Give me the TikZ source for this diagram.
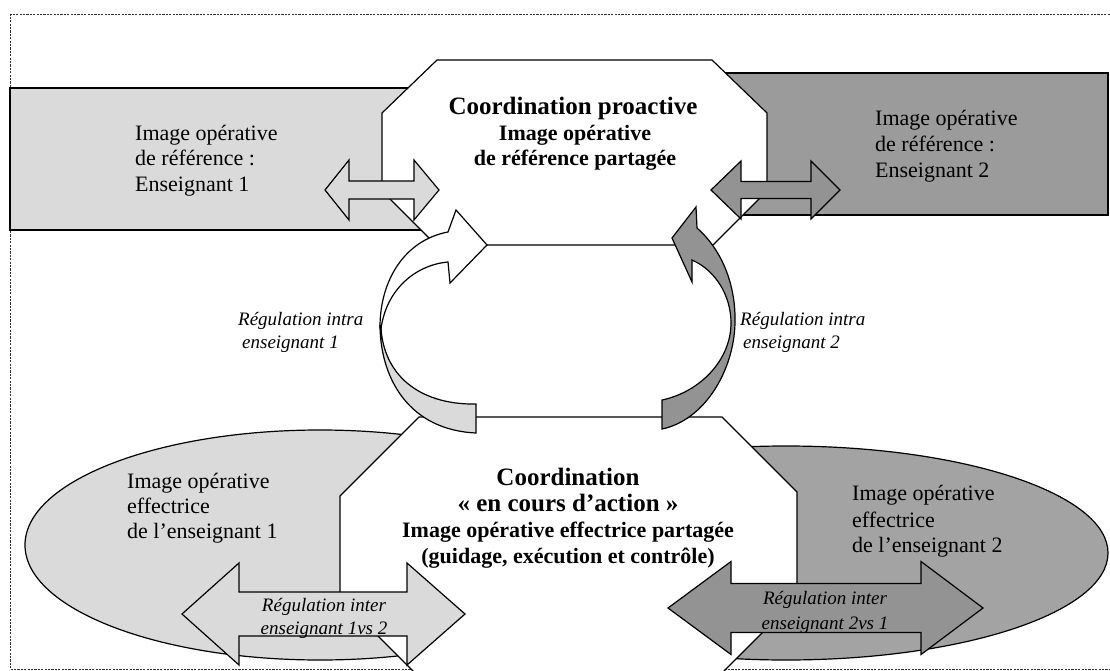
\documentclass[tikz,border=0pt]{standalone}
\usepackage{fontspec}
\setmainfont{Liberation Serif}
\definecolor{lgray}{HTML}{DADADA}
\definecolor{rgray}{HTML}{9B9B9B}
\definecolor{egray}{HTML}{A3A3A3}
\definecolor{agray}{HTML}{939393}
\definecolor{framec}{HTML}{333333}
\newcommand{\dblarrow}[8]{%
  \draw[#1] (#2,#6) -- (#3,#6-#8) -- (#3,#6-#7) -- (#4,#6-#7) -- (#4,#6-#8) -- (#5,#6)
    -- (#4,#6+#8) -- (#4,#6+#7) -- (#3,#6+#7) -- (#3,#6+#8) -- cycle;}
\begin{document}
\begin{tikzpicture}[x=1pt,y=-1pt,line join=miter,
  outl/.style={draw=black,line width=1.2pt},
  frameline/.style={draw=framec,line width=1pt,dash pattern=on 2.2pt off 1.2pt},
  reg/.style={font=\fontsize{22}{26}\selectfont,inner sep=0pt},
  ttl/.style={font=\fontsize{25}{29}\selectfont\bfseries,inner sep=0pt},
  bld/.style={font=\fontsize{22}{26}\selectfont\bfseries,inner sep=0pt},
  itl/.style={font=\fontsize{19}{23}\selectfont\itshape,inner sep=0pt}]
\useasboundingbox (0,0) rectangle (1110,671);
% frame
\draw[frameline] (1120,15) -- (10,15) -- (10,669) -- (1120,669);
% background shapes
\draw[outl,fill=lgray] (10,88) rectangle (430,230);
\draw[outl,fill=rgray] (700,73) rectangle (1108,215);
\draw[outl,fill=lgray] (320,545) ellipse [x radius=295,y radius=115];
\draw[outl,fill=egray] (786,553) ellipse [x radius=322,y radius=107];
% octagons
\draw[outl,fill=white] (437,60) -- (712,60) -- (767,113) -- (767,191) -- (713,245)
  -- (436,245) -- (382,191) -- (382,113) -- cycle;
\draw[outl,fill=white] (419,417) -- (722,417) -- (797,492) -- (797,598) -- (722,673)
  -- (415,673) -- (340,598) -- (340,496) -- cycle;
% double arrows
\dblarrow{outl,fill=lgray}{325}{349}{414}{439}{190}{9}{30}
\dblarrow{outl,fill=agray}{711}{741}{811}{840}{190}{8.5}{29}
\dblarrow{outl,fill=lgray}{182}{239}{407}{465}{614}{22}{51}
\dblarrow{outl,fill=agray}{668}{731}{921}{983}{608}{24.5}{46.5}
% curved arrow, teacher 1
\draw[outl,fill=lgray] (380,327) .. controls (381,380) and (410,430) .. (476,433)
  -- (476,404) .. controls (425,405) and (385,380) .. (381,329) -- cycle;
\draw[outl,fill=white] (380,327) .. controls (380,280) and (405,240) .. (448,232)
  -- (456,210) -- (487,245) -- (450,283) -- (448,262)
  .. controls (415,265) and (386,290) .. (381,329) -- cycle;
% curved arrow, teacher 2
\draw[outl,fill=agray] (662,429) .. controls (705,420) and (734,370) .. (735,323)
  .. controls (736,285) and (722,250) .. (697,228) -- (696,207) -- (672,238)
  -- (692,282) -- (692,260) .. controls (715,270) and (731,295) .. (731,323)
  .. controls (731,360) and (700,392) .. (662,400) -- cycle;
% texts
\node[reg,anchor=base west] (r1a) at (135,141) {Image opérative};
\node[reg,anchor=base west] (r1b) at (135,166) {de référence :};
\node[reg,anchor=base west] (r1c) at (135,192) {Enseignant 1};
\node[reg,anchor=base west] (r2a) at (875,126) {Image opérative};
\node[reg,anchor=base west] (r2b) at (875,152) {de référence :};
\node[reg,anchor=base west] (r2c) at (875,178) {Enseignant 2};
\node[ttl,anchor=base] (p1) at (573,115) {Coordination proactive};
\node[bld,anchor=base] (p2) at (575,141) {Image opérative};
\node[bld,anchor=base] (p3) at (575,166) {de référence partagée};
\node[itl,anchor=base west] (i1a) at (238,325) {Régulation intra};
\node[itl,anchor=base west] (i1b) at (242,348) {enseignant 1};
\node[itl,anchor=base west] (i2a) at (740,325) {Régulation intra};
\node[itl,anchor=base west] (i2b) at (743,348) {enseignant 2};
\node[ttl,anchor=base] (c1) at (568,485) {Coordination};
\node[ttl,anchor=base] (c2) at (568,511) {« en cours d’action »};
\node[bld,anchor=base] (c3) at (568,537) {Image opérative effectrice partagée};
\node[bld,anchor=base] (c4) at (568,563) {(guidage, exécution et contrôle)};
\node[reg,anchor=base west] (e1a) at (127,488) {Image opérative};
\node[reg,anchor=base west] (e1b) at (127,513) {effectrice};
\node[reg,anchor=base west] (e1c) at (127,538) {de l’enseignant 1};
\node[reg,anchor=base west] (e2a) at (852,500) {Image opérative};
\node[reg,anchor=base west] (e2b) at (852,527) {effectrice};
\node[reg,anchor=base west] (e2c) at (852,552) {de l’enseignant 2};
\node[itl,anchor=base] (g1a) at (324,611) {Régulation inter};
\node[itl,anchor=base] (g1b) at (324,634) {enseignant 1vs 2};
\node[itl,anchor=base] (g2a) at (825,604) {Régulation inter};
\node[itl,anchor=base] (g2b) at (825,629) {enseignant 2vs 1};
\end{tikzpicture}
\end{document}
